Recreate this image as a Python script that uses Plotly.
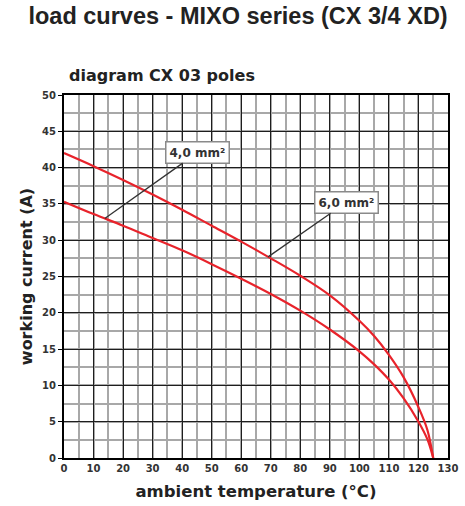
import numpy as np
import plotly.graph_objects as go

# ambient temperature (°C) vs working current (A)
temp_6mm = [0, 10, 20, 30, 40, 50, 60, 70, 80, 90, 100, 105, 110, 115, 120, 123, 125]
current_6mm = [42.0, 40.2, 38.3, 36.3, 34.2, 32.0, 29.8, 27.5, 25.1, 22.4, 18.9, 16.8, 14.2, 11.1, 7.0, 3.9, 0.0]

temp_4mm = [0, 10, 20, 30, 40, 50, 60, 70, 80, 90, 100, 105, 110, 115, 120, 123, 125]
current_4mm = [35.3, 33.6, 32.0, 30.3, 28.6, 26.7, 24.7, 22.6, 20.3, 17.7, 14.7, 12.9, 10.8, 8.2, 5.0, 2.6, 0.0]

x_ticks = list(range(0, 131, 10))
y_ticks = list(range(0, 51, 5))

label_4mm = "4,0 mm²"
label_6mm = "6,0 mm²"
# label box centres and where the leader lines touch the curves (temperature)
label_4mm_pos = (45.3, 42.1)
label_6mm_pos = (95.5, 35.2)
touch_4mm_t = 13.8
touch_6mm_t = 69.1

RED = "#e8232b"
TICKFONT = dict(family="DejaVu Sans", size=10, color="#333333", weight="bold")

fig = go.Figure()
fig.add_trace(go.Scatter(x=temp_6mm, y=current_6mm, mode="lines",
                         line=dict(color=RED, width=2.2, shape="spline", smoothing=1.0),
                         hoverinfo="skip", showlegend=False))
fig.add_trace(go.Scatter(x=temp_4mm, y=current_4mm, mode="lines",
                         line=dict(color=RED, width=2.2, shape="spline", smoothing=1.0),
                         hoverinfo="skip", showlegend=False))

for lab, pos, t, xs, ys in [(label_4mm, label_4mm_pos, touch_4mm_t, temp_4mm, current_4mm),
                            (label_6mm, label_6mm_pos, touch_6mm_t, temp_6mm, current_6mm)]:
    fig.add_annotation(x=t, y=float(np.interp(t, xs, ys)), xref="x", yref="y",
                       ax=pos[0], ay=pos[1], axref="x", ayref="y",
                       text="<b>" + lab + "</b>", showarrow=True, arrowhead=0,
                       arrowwidth=1.3, arrowcolor="#333333",
                       font=dict(family="DejaVu Sans", size=12, color="#333333"),
                       bgcolor="white", bordercolor="#8a8a8a", borderwidth=1.5, borderpad=3)

fig.add_annotation(text="<b>diagram CX 03 poles</b>", xref="paper", yref="paper",
                   x=0.008, y=1.055, xanchor="left", yanchor="middle", showarrow=False,
                   font=dict(family="DejaVu Sans", size=16, color="#222222"))

fig.update_layout(
    width=465, height=506,
    margin=dict(l=64, r=17, t=95, b=48),
    paper_bgcolor="white", plot_bgcolor="white",
    title=dict(text="<b>load curves - MIXO series (CX 3/4 XD)</b>", x=0.512, xanchor="center",
               y=0.968, yanchor="middle",
               font=dict(family="Liberation Sans", size=23.5, color="#222222")),
)
fig.update_xaxes(range=[0, 130], tickvals=x_ticks, tickfont=TICKFONT,
                 showgrid=True, gridcolor="#1e1e1e", gridwidth=1.4,
                 minor=dict(dtick=5, tick0=0, showgrid=True, gridcolor="#a8a8a8", gridwidth=1.6),
                 showline=True, linecolor="black", linewidth=2, mirror=True,
                 zeroline=False, ticks="", automargin=False,
                 title=dict(text="<b>ambient temperature (°C)</b>", standoff=12,
                            font=dict(family="DejaVu Sans", size=16.5, color="#222222")))
fig.update_yaxes(range=[0, 50], tickvals=y_ticks, tickfont=TICKFONT,
                 showgrid=True, gridcolor="#1e1e1e", gridwidth=1.4,
                 minor=dict(dtick=2.5, tick0=0, showgrid=True, gridcolor="#a8a8a8", gridwidth=1.6),
                 showline=True, linecolor="black", linewidth=2, mirror=True,
                 zeroline=False, ticks="outside", ticklen=4, tickcolor="black", automargin=False,
                 title=dict(text="<b>working current (A)</b>", standoff=5,
                            font=dict(family="DejaVu Sans", size=16, color="#222222")))

fig.write_html("out.html", config={"displayModeBar": False},
               post_script="document.body.style.margin='0';document.documentElement.style.overflow='hidden';")
